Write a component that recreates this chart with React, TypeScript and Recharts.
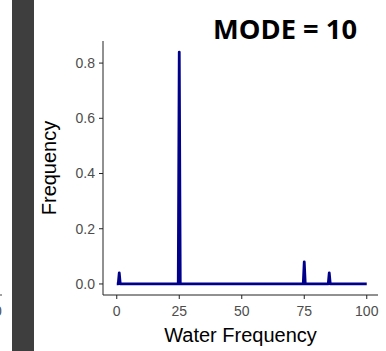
import React from 'react';
import { LineChart, Line, XAxis, YAxis } from 'recharts';

// water frequency values (x) and their relative frequency (y)
const waterValues = [0, 0.6, 1, 1.4, 24.6, 25, 25.4, 74.6, 75, 75.4, 84.6, 85, 85.4, 100];
const frequencies = [0, 0, 0.04, 0, 0, 0.84, 0, 0, 0.08, 0, 0, 0.04, 0, 0];

const xTicks = [0, 25, 50, 75, 100];
const yTicks = [0, 0.2, 0.4, 0.6, 0.8];

const TITLE = 'MODE = 10';
const X_LABEL = 'Water Frequency';
const Y_LABEL = 'Frequency';

const AXIS_FONT = '"Liberation Sans", Arial, sans-serif';
const LINE_COLOR = '#00008B';

const chartData = waterValues.map((w, i) => ({ water: w, freq: frequencies[i] }));

export default function App() {
  return (
    <div style={{ position: 'absolute', left: 0, top: 0, width: 386, height: 351, background: '#fff' }}>
      <LineChart
        width={386}
        height={351}
        data={chartData}
        margin={{ top: 41, right: 8, left: 0, bottom: 0 }}
      >
        <XAxis
          type="number"
          dataKey="water"
          domain={[-5.5, 104.5]}
          ticks={xTicks}
          allowDataOverflow
          height={56}
          stroke="#222"
          tickSize={4}
          tickMargin={7}
          tick={{ fill: '#4D4D4D', fontSize: 14, fontFamily: AXIS_FONT }}
          label={{
            value: X_LABEL,
            position: 'insideBottom',
            offset: 9,
            fill: '#000',
            fontSize: 20,
            fontFamily: AXIS_FONT,
          }}
        />
        <YAxis
          type="number"
          domain={[-0.04, 0.88]}
          ticks={yTicks}
          allowDataOverflow
          width={103}
          stroke="#222"
          tickSize={4}
          tickMargin={4}
          tickFormatter={(v: number) => v.toFixed(1)}
          tick={{ fill: '#4D4D4D', fontSize: 14, fontFamily: AXIS_FONT }}
          label={{
            value: Y_LABEL,
            angle: -90,
            position: 'insideLeft',
            offset: 49,
            fill: '#000',
            fontSize: 20,
            fontFamily: AXIS_FONT,
            style: { textAnchor: 'middle' },
          }}
        />
        <Line
          type="linear"
          dataKey="freq"
          stroke={LINE_COLOR}
          strokeWidth={2.8}
          strokeLinejoin="round"
          dot={false}
          activeDot={false}
          isAnimationActive={false}
        />
      </LineChart>
      <svg
        width={386}
        height={351}
        style={{ position: 'absolute', left: 0, top: 0, pointerEvents: 'none' }}
      >
        {/* edge of the neighbouring panel */}
        <line x1={0} y1={295} x2={2} y2={295} stroke="#444" strokeWidth={1} />
        <text x={-6} y={316} fontSize={14} fontFamily={AXIS_FONT} fill="#4D4D4D">0</text>
        <rect x={12} y={0} width={22} height={351} fill="#3e3e3e" />
        <text
          x={213}
          y={39}
          fontSize={26}
          fontWeight="bold"
          fontFamily='"Open Sans", "Liberation Sans", sans-serif'
          textLength={144}
          lengthAdjust="spacingAndGlyphs"
          fill="#000"
        >
          {TITLE}
        </text>
      </svg>
    </div>
  );
}
